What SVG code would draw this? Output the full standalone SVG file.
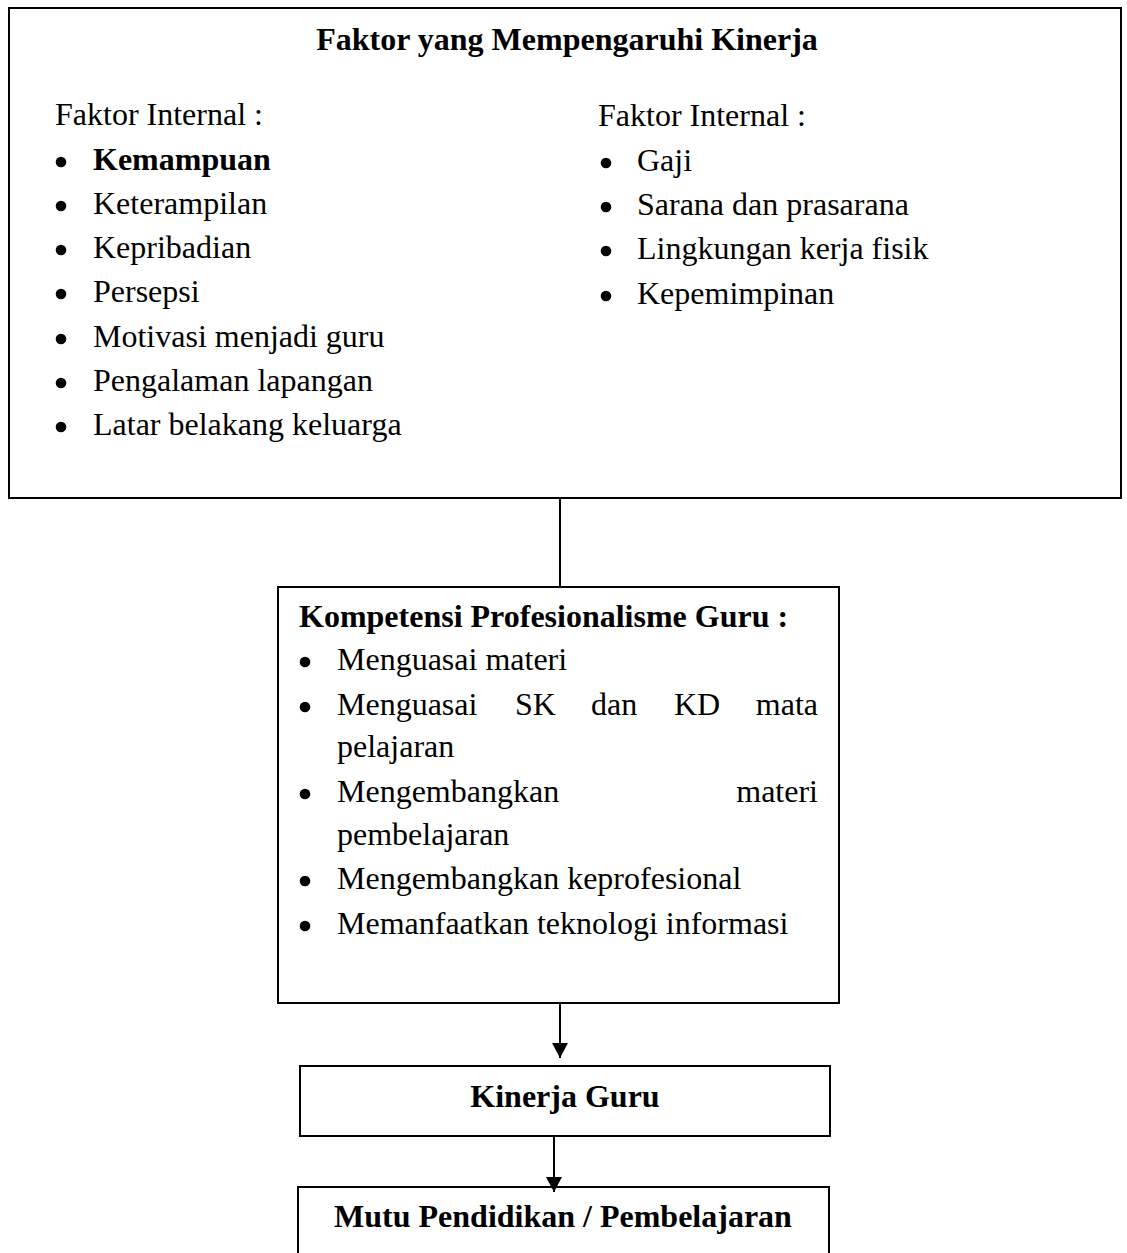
<svg xmlns="http://www.w3.org/2000/svg" width="1127" height="1253" viewBox="0 0 1127 1253">
<style>
text{font-family:"Liberation Serif","Times New Roman",serif;font-size:32px;fill:#000}
.b{font-weight:bold}
.m{text-anchor:middle}
.e{text-anchor:end}
.box{fill:#fff;stroke:#000;stroke-width:2}
.ln{fill:none;stroke:#000;stroke-width:2}
.dot{fill:#000}
</style>
<defs>
<marker id="ah" markerUnits="userSpaceOnUse" viewBox="0 0 15 16" refX="15" refY="8" markerWidth="15" markerHeight="16" orient="auto">
<path d="M0,0 L15,8 L0,16 z" fill="#000"/>
</marker>
</defs>
<rect width="1127" height="1253" fill="#fff"/>

<g id="faktor">
<rect class="box" x="9" y="8" width="1112" height="490"/>
<text class="b m" x="567" y="50">Faktor yang Mempengaruhi Kinerja</text>
<text x="55" y="125">Faktor Internal :</text>
<circle class="dot" cx="61" cy="162" r="5.3"/><text class="b" x="93" y="170">Kemampuan</text>
<circle class="dot" cx="61" cy="206" r="5.3"/><text x="93" y="214">Keterampilan</text>
<circle class="dot" cx="61" cy="250" r="5.3"/><text x="93" y="258">Kepribadian</text>
<circle class="dot" cx="61" cy="294" r="5.3"/><text x="93" y="302">Persepsi</text>
<circle class="dot" cx="61" cy="339" r="5.3"/><text x="93" y="347">Motivasi menjadi guru</text>
<circle class="dot" cx="61" cy="383" r="5.3"/><text x="93" y="391">Pengalaman lapangan</text>
<circle class="dot" cx="61" cy="427" r="5.3"/><text x="93" y="435">Latar belakang keluarga</text>
<text x="598" y="126">Faktor Internal :</text>
<circle class="dot" cx="606" cy="163" r="5.3"/><text x="637" y="171">Gaji</text>
<circle class="dot" cx="606" cy="207" r="5.3"/><text x="637" y="215">Sarana dan prasarana</text>
<circle class="dot" cx="606" cy="251" r="5.3"/><text x="637" y="259">Lingkungan kerja fisik</text>
<circle class="dot" cx="606" cy="296" r="5.3"/><text x="637" y="304">Kepemimpinan</text>
</g>

<g id="kompetensi">
<rect class="box" x="278" y="587" width="561" height="416"/>
<text class="b" x="299" y="627">Kompetensi Profesionalisme Guru :</text>
<circle class="dot" cx="305" cy="662" r="5.3"/><text x="337" y="670">Menguasai materi</text>
<circle class="dot" cx="305" cy="707" r="5.3"/><text x="337" y="715">Menguasai</text><text x="515" y="715">SK</text><text x="591" y="715">dan</text><text x="674" y="715">KD</text><text class="e" x="818" y="715">mata</text>
<text x="337" y="757">pelajaran</text>
<circle class="dot" cx="305" cy="794" r="5.3"/><text x="337" y="802">Mengembangkan</text><text class="e" x="818" y="802">materi</text>
<text x="337" y="845">pembelajaran</text>
<circle class="dot" cx="305" cy="881" r="5.3"/><text x="337" y="889">Mengembangkan keprofesional</text>
<circle class="dot" cx="305" cy="926" r="5.3"/><text x="337" y="934">Memanfaatkan teknologi informasi</text>
</g>

<g id="kinerja">
<rect class="box" x="300" y="1066" width="530" height="70"/>
<text class="b m" x="565" y="1107">Kinerja Guru</text>
</g>

<g id="mutu">
<rect class="box" x="298" y="1187" width="531" height="80"/>
<text class="b m" x="563" y="1227">Mutu Pendidikan / Pembelajaran</text>
</g>

<g id="connectors">
<line class="ln" x1="560" y1="498" x2="560" y2="587"/>
<line class="ln" x1="560" y1="1003" x2="560" y2="1058" marker-end="url(#ah)"/>
<line class="ln" x1="554" y1="1136" x2="554" y2="1192" marker-end="url(#ah)"/>
</g>
</svg>
